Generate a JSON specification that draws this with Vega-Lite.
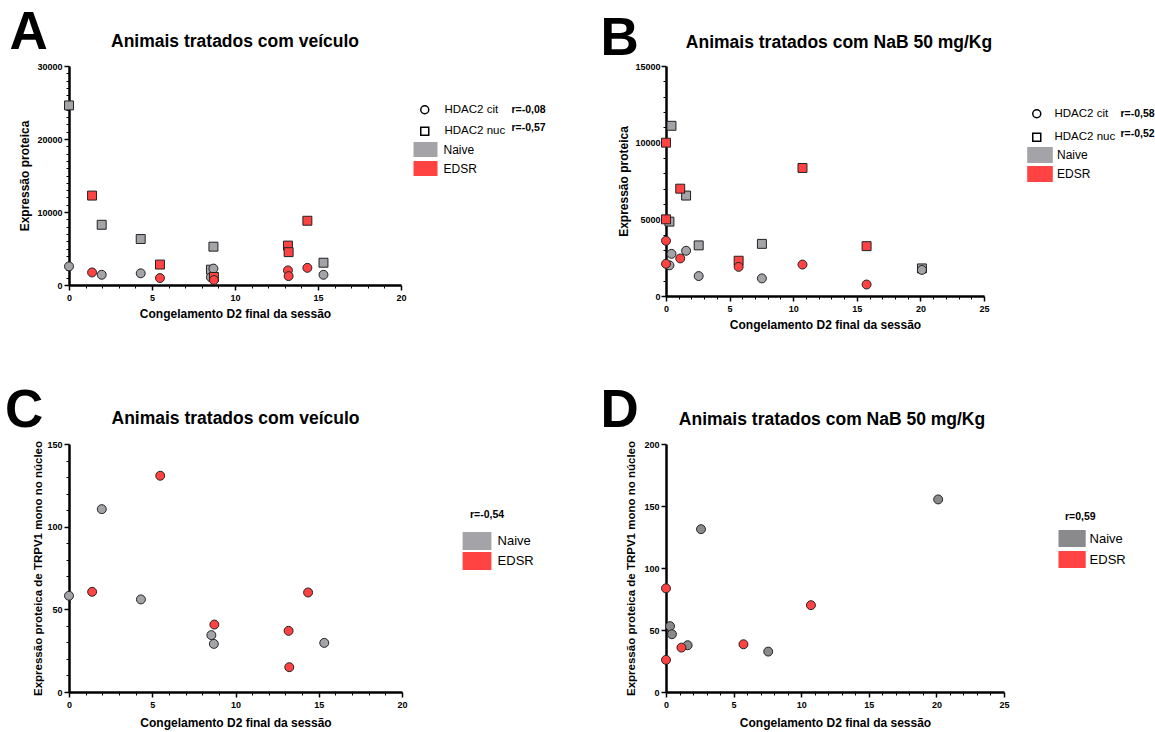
{
  "$schema": "https://vega.github.io/schema/vega-lite/v6.json",
  "autosize": {"type": "pad"},
  "padding": {"left": 5, "top": 6, "right": 5, "bottom": 5},
  "background": "white",
  "datasets": {
    "pts": [
      {"panel": "A", "group": "Naive", "protein": "HDAC2 nuc", "x": 0, "y": 24600},
      {"panel": "A", "group": "Naive", "protein": "HDAC2 nuc", "x": 1.97, "y": 8250},
      {"panel": "A", "group": "Naive", "protein": "HDAC2 nuc", "x": 4.32, "y": 6300},
      {"panel": "A", "group": "Naive", "protein": "HDAC2 nuc", "x": 8.55, "y": 2100},
      {"panel": "A", "group": "Naive", "protein": "HDAC2 nuc", "x": 8.7, "y": 5250},
      {"panel": "A", "group": "Naive", "protein": "HDAC2 nuc", "x": 15.33, "y": 3050},
      {"panel": "A", "group": "Naive", "protein": "HDAC2 cit", "x": 0, "y": 2550},
      {"panel": "A", "group": "Naive", "protein": "HDAC2 cit", "x": 1.97, "y": 1400},
      {"panel": "A", "group": "Naive", "protein": "HDAC2 cit", "x": 4.32, "y": 1600},
      {"panel": "A", "group": "Naive", "protein": "HDAC2 cit", "x": 8.55, "y": 1050},
      {"panel": "A", "group": "Naive", "protein": "HDAC2 cit", "x": 8.7, "y": 2250},
      {"panel": "A", "group": "Naive", "protein": "HDAC2 cit", "x": 15.33, "y": 1400},
      {"panel": "A", "group": "EDSR", "protein": "HDAC2 nuc", "x": 1.39, "y": 12250},
      {"panel": "A", "group": "EDSR", "protein": "HDAC2 nuc", "x": 5.48, "y": 2800},
      {"panel": "A", "group": "EDSR", "protein": "HDAC2 nuc", "x": 8.73, "y": 1100},
      {"panel": "A", "group": "EDSR", "protein": "HDAC2 nuc", "x": 13.19, "y": 5400},
      {"panel": "A", "group": "EDSR", "protein": "HDAC2 nuc", "x": 13.23, "y": 4500},
      {"panel": "A", "group": "EDSR", "protein": "HDAC2 nuc", "x": 14.36, "y": 8800},
      {"panel": "A", "group": "EDSR", "protein": "HDAC2 cit", "x": 1.39, "y": 1720},
      {"panel": "A", "group": "EDSR", "protein": "HDAC2 cit", "x": 5.48, "y": 950},
      {"panel": "A", "group": "EDSR", "protein": "HDAC2 cit", "x": 8.73, "y": 680},
      {"panel": "A", "group": "EDSR", "protein": "HDAC2 cit", "x": 13.19, "y": 2000},
      {"panel": "A", "group": "EDSR", "protein": "HDAC2 cit", "x": 13.23, "y": 1220},
      {"panel": "A", "group": "EDSR", "protein": "HDAC2 cit", "x": 14.36, "y": 2350},
      {"panel": "B", "group": "Naive", "protein": "HDAC2 nuc", "x": 0.27, "y": 4850},
      {"panel": "B", "group": "Naive", "protein": "HDAC2 nuc", "x": 0.43, "y": 11100},
      {"panel": "B", "group": "Naive", "protein": "HDAC2 nuc", "x": 1.58, "y": 6550},
      {"panel": "B", "group": "Naive", "protein": "HDAC2 nuc", "x": 2.57, "y": 3300},
      {"panel": "B", "group": "Naive", "protein": "HDAC2 nuc", "x": 7.54, "y": 3400},
      {"panel": "B", "group": "Naive", "protein": "HDAC2 nuc", "x": 20.12, "y": 1800},
      {"panel": "B", "group": "Naive", "protein": "HDAC2 cit", "x": 0.27, "y": 2000},
      {"panel": "B", "group": "Naive", "protein": "HDAC2 cit", "x": 0.43, "y": 2750},
      {"panel": "B", "group": "Naive", "protein": "HDAC2 cit", "x": 1.58, "y": 2950},
      {"panel": "B", "group": "Naive", "protein": "HDAC2 cit", "x": 2.57, "y": 1300},
      {"panel": "B", "group": "Naive", "protein": "HDAC2 cit", "x": 7.54, "y": 1150},
      {"panel": "B", "group": "Naive", "protein": "HDAC2 cit", "x": 20.12, "y": 1700},
      {"panel": "B", "group": "EDSR", "protein": "HDAC2 nuc", "x": 0, "y": 10000},
      {"panel": "B", "group": "EDSR", "protein": "HDAC2 nuc", "x": 0, "y": 5000},
      {"panel": "B", "group": "EDSR", "protein": "HDAC2 nuc", "x": 1.12, "y": 7000},
      {"panel": "B", "group": "EDSR", "protein": "HDAC2 nuc", "x": 5.71, "y": 2300},
      {"panel": "B", "group": "EDSR", "protein": "HDAC2 nuc", "x": 10.73, "y": 8350},
      {"panel": "B", "group": "EDSR", "protein": "HDAC2 nuc", "x": 15.77, "y": 3250},
      {"panel": "B", "group": "EDSR", "protein": "HDAC2 cit", "x": 0, "y": 3600},
      {"panel": "B", "group": "EDSR", "protein": "HDAC2 cit", "x": 0, "y": 2100},
      {"panel": "B", "group": "EDSR", "protein": "HDAC2 cit", "x": 1.12, "y": 2450},
      {"panel": "B", "group": "EDSR", "protein": "HDAC2 cit", "x": 5.71, "y": 1900},
      {"panel": "B", "group": "EDSR", "protein": "HDAC2 cit", "x": 10.73, "y": 2050},
      {"panel": "B", "group": "EDSR", "protein": "HDAC2 cit", "x": 15.77, "y": 750},
      {"panel": "C", "group": "Naive", "protein": "TRPV1", "x": 0, "y": 58.2},
      {"panel": "C", "group": "Naive", "protein": "TRPV1", "x": 1.97, "y": 110.6},
      {"panel": "C", "group": "Naive", "protein": "TRPV1", "x": 4.32, "y": 56},
      {"panel": "C", "group": "Naive", "protein": "TRPV1", "x": 8.55, "y": 34.4},
      {"panel": "C", "group": "Naive", "protein": "TRPV1", "x": 8.7, "y": 29.1},
      {"panel": "C", "group": "Naive", "protein": "TRPV1", "x": 15.33, "y": 29.7},
      {"panel": "C", "group": "EDSR", "protein": "TRPV1", "x": 1.39, "y": 60.6},
      {"panel": "C", "group": "EDSR", "protein": "TRPV1", "x": 5.48, "y": 130.8},
      {"panel": "C", "group": "EDSR", "protein": "TRPV1", "x": 8.73, "y": 40.8},
      {"panel": "C", "group": "EDSR", "protein": "TRPV1", "x": 13.19, "y": 37},
      {"panel": "C", "group": "EDSR", "protein": "TRPV1", "x": 13.23, "y": 15},
      {"panel": "C", "group": "EDSR", "protein": "TRPV1", "x": 14.36, "y": 60.2},
      {"panel": "D", "group": "Naive", "protein": "TRPV1", "x": 0.3, "y": 53.1},
      {"panel": "D", "group": "Naive", "protein": "TRPV1", "x": 0.44, "y": 46.6},
      {"panel": "D", "group": "Naive", "protein": "TRPV1", "x": 1.6, "y": 37.7},
      {"panel": "D", "group": "Naive", "protein": "TRPV1", "x": 2.59, "y": 131.3},
      {"panel": "D", "group": "Naive", "protein": "TRPV1", "x": 7.56, "y": 32.6},
      {"panel": "D", "group": "Naive", "protein": "TRPV1", "x": 20.13, "y": 155.3},
      {"panel": "D", "group": "EDSR", "protein": "TRPV1", "x": 0, "y": 83.6},
      {"panel": "D", "group": "EDSR", "protein": "TRPV1", "x": 0, "y": 25.9},
      {"panel": "D", "group": "EDSR", "protein": "TRPV1", "x": 1.14, "y": 35.8},
      {"panel": "D", "group": "EDSR", "protein": "TRPV1", "x": 5.73, "y": 38.5},
      {"panel": "D", "group": "EDSR", "protein": "TRPV1", "x": 10.72, "y": 70}
    ],
    "stats": [
      {"panel": "A", "r": "r=-0,08"},
      {"panel": "A", "r": "r=-0,57"},
      {"panel": "B", "r": "r=-0,58"},
      {"panel": "B", "r": "r=-0,52"},
      {"panel": "C", "r": "r=-0,54"},
      {"panel": "D", "r": "r=0,59"}
    ],
    "txt": [
      {"panel": "A", "letter": "A", "title": "Animais tratados com veículo"},
      {"panel": "B", "letter": "B", "title": "Animais tratados com NaB 50 mg/Kg"},
      {"panel": "C", "letter": "C", "title": "Animais tratados com veículo"},
      {"panel": "D", "letter": "D", "title": "Animais tratados com NaB 50 mg/Kg"}
    ]
  },
  "columns": 2,
  "spacing": {"row": 148, "column": 264},
  "bounds": "flush",
  "align": "each",
  "resolve": {
    "scale": {"x": "independent", "y": "independent", "color": "independent", "shape": "independent", "strokeDash": "independent"},
    "legend": {"color": "independent", "shape": "independent", "strokeDash": "independent"}
  },
  "concat": [
    {
      "width": 332,
      "height": 219,
      "layer": [
        {
          "data": {"name": "pts"},
          "transform": [{"filter": "datum.panel === 'A'"}],
          "mark": {"type": "point", "filled": true, "size": 80, "stroke": "#222", "strokeWidth": 1, "opacity": 1},
          "encoding": {
            "x": {"field": "x", "type": "quantitative", "scale": {"domain": [0, 20], "nice": false, "zero": false},
              "axis": {"title": "Congelamento D2 final da sessão", "tickCount": 20, "labelExpr": "datum.value % 5 === 0 ? datum.label : ''",
                "tickSize": {"condition": {"test": "datum.value % 5 !== 0", "value": 3}, "value": 5},
                "tickWidth": {"condition": {"test": "datum.value % 5 !== 0", "value": 1}, "value": 1.5},
                "labelPadding": 3, "titlePadding": 6}},
            "y": {"field": "y", "type": "quantitative", "scale": {"domain": [0, 30000], "nice": false},
              "axis": {"title": "Expressão proteica", "tickCount": 30, "format": "d", "labelExpr": "datum.value % 10000 === 0 ? datum.label : ''",
                "tickSize": {"condition": {"test": "datum.value % 10000 !== 0", "value": 3}, "value": 5},
                "tickWidth": {"condition": {"test": "datum.value % 10000 !== 0", "value": 1}, "value": 1.5},
                "labelPadding": 2, "titlePadding": 5}},
            "color": {"field": "group", "type": "nominal", "scale": {"domain": ["Naive", "EDSR"], "range": ["#a3a3a8", "#ff4343"]},
              "legend": {"title": null, "orient": "none", "legendX": 349, "legendY": 76, "symbolType": "M-1.6,-1H1.6V1H-1.6Z", "symbolSize": 225, "symbolStrokeColor": "white", "symbolStrokeWidth": 0, "symbolOpacity": 1, "labelFontSize": 12, "labelOffset": 10.5, "rowPadding": 4}},
            "shape": {"field": "protein", "type": "nominal", "scale": {"range": ["circle", "square"]},
              "legend": {"title": null, "orient": "none", "legendX": 350, "legendY": 38, "symbolSize": 64, "symbolFillColor": "white", "symbolStrokeColor": "black", "symbolStrokeWidth": 1.5, "symbolOpacity": 1, "labelFontSize": 11.5, "labelOffset": 14, "rowPadding": 6.5}}
          }
        },
        {
          "data": {"name": "stats"},
          "transform": [{"filter": "datum.panel === 'A'"}],
          "mark": {"type": "point", "opacity": 0},
          "encoding": {
            "strokeDash": {"field": "r", "type": "nominal", "sort": null,
              "legend": {"title": null, "orient": "none", "legendX": 432, "legendY": 38.5, "symbolSize": 64, "symbolOpacity": 0, "labelFontSize": 10.5, "labelFontWeight": "bold", "labelOffset": 0, "rowPadding": 7.5}}
          }
        },
        {
          "data": {"name": "txt"},
          "transform": [{"filter": "datum.panel === 'A'"}],
          "mark": {"type": "text", "font": "Liberation Sans", "fontSize": 53, "fontWeight": "bold", "align": "left", "baseline": "alphabetic", "color": "black"},
          "encoding": {
            "x": {"datum": -3.58, "scale": {"domain": [0, 20], "nice": false, "zero": false}},
            "y": {"datum": 32329, "scale": {"domain": [0, 30000], "nice": false}},
            "text": {"field": "letter"}
          }
        },
        {
          "data": {"name": "txt"},
          "transform": [{"filter": "datum.panel === 'A'"}],
          "mark": {"type": "text", "font": "Liberation Sans", "fontSize": 17.5, "fontWeight": "bold", "align": "center", "baseline": "alphabetic", "color": "black"},
          "encoding": {
            "x": {"datum": 10, "scale": {"domain": [0, 20], "nice": false, "zero": false}},
            "y": {"datum": 32644, "scale": {"domain": [0, 30000], "nice": false}},
            "text": {"field": "title"}
          }
        }
      ]
    },
    {
      "width": 318,
      "height": 230,
      "layer": [
        {
          "data": {"name": "pts"},
          "transform": [{"filter": "datum.panel === 'B'"}],
          "mark": {"type": "point", "filled": true, "size": 80, "stroke": "#222", "strokeWidth": 1, "opacity": 1},
          "encoding": {
            "x": {"field": "x", "type": "quantitative", "scale": {"domain": [0, 25], "nice": false, "zero": false},
              "axis": {"title": "Congelamento D2 final da sessão", "tickCount": 25, "labelExpr": "datum.value % 5 === 0 ? datum.label : ''",
                "tickSize": {"condition": {"test": "datum.value % 5 !== 0", "value": 3}, "value": 5},
                "tickWidth": {"condition": {"test": "datum.value % 5 !== 0", "value": 1}, "value": 1.5},
                "labelPadding": 3, "titlePadding": 6}},
            "y": {"field": "y", "type": "quantitative", "scale": {"domain": [0, 15000], "nice": false},
              "axis": {"title": "Expressão proteica", "tickCount": 15, "format": "d", "labelExpr": "datum.value % 5000 === 0 ? datum.label : ''",
                "tickSize": {"condition": {"test": "datum.value % 5000 !== 0", "value": 3}, "value": 5},
                "tickWidth": {"condition": {"test": "datum.value % 5000 !== 0", "value": 1}, "value": 1.5},
                "labelPadding": 1, "titlePadding": 4}},
            "color": {"field": "group", "type": "nominal", "scale": {"domain": ["Naive", "EDSR"], "range": ["#a3a3a8", "#ff4343"]},
              "legend": {"title": null, "orient": "none", "legendX": 366, "legendY": 81, "symbolType": "M-1.6,-1H1.6V1H-1.6Z", "symbolSize": 256, "symbolStrokeColor": "white", "symbolStrokeWidth": 0, "symbolOpacity": 1, "labelFontSize": 12, "labelOffset": 9, "rowPadding": 3}},
            "shape": {"field": "protein", "type": "nominal", "scale": {"range": ["circle", "square"]},
              "legend": {"title": null, "orient": "none", "legendX": 365, "legendY": 42, "symbolSize": 64, "symbolFillColor": "white", "symbolStrokeColor": "black", "symbolStrokeWidth": 1.5, "symbolOpacity": 1, "labelFontSize": 11.5, "labelOffset": 12, "rowPadding": 8.5}}
          }
        },
        {
          "data": {"name": "stats"},
          "transform": [{"filter": "datum.panel === 'B'"}],
          "mark": {"type": "point", "opacity": 0},
          "encoding": {
            "strokeDash": {"field": "r", "type": "nominal", "sort": null,
              "legend": {"title": null, "orient": "none", "legendX": 444, "legendY": 42.5, "symbolSize": 64, "symbolOpacity": 0, "labelFontSize": 10.5, "labelFontWeight": "bold", "labelOffset": 0, "rowPadding": 9.5}}
          }
        },
        {
          "data": {"name": "txt"},
          "transform": [{"filter": "datum.panel === 'B'"}],
          "mark": {"type": "text", "font": "Liberation Sans", "fontSize": 53, "fontWeight": "bold", "align": "left", "baseline": "alphabetic", "color": "black"},
          "encoding": {
            "x": {"datum": -5.15, "scale": {"domain": [0, 25], "nice": false, "zero": false}},
            "y": {"datum": 15717, "scale": {"domain": [0, 15000], "nice": false}},
            "text": {"field": "letter"}
          }
        },
        {
          "data": {"name": "txt"},
          "transform": [{"filter": "datum.panel === 'B'"}],
          "mark": {"type": "text", "font": "Liberation Sans", "fontSize": 17.5, "fontWeight": "bold", "align": "center", "baseline": "alphabetic", "color": "black"},
          "encoding": {
            "x": {"datum": 13.6, "scale": {"domain": [0, 25], "nice": false, "zero": false}},
            "y": {"datum": 16154, "scale": {"domain": [0, 15000], "nice": false}},
            "text": {"field": "title"}
          }
        }
      ]
    },
    {
      "width": 333,
      "height": 248,
      "layer": [
        {
          "data": {"name": "pts"},
          "transform": [{"filter": "datum.panel === 'C'"}],
          "mark": {"type": "point", "filled": true, "shape": "circle", "size": 80, "stroke": "#222", "strokeWidth": 1, "opacity": 1},
          "encoding": {
            "x": {"field": "x", "type": "quantitative", "scale": {"domain": [0, 20], "nice": false, "zero": false},
              "axis": {"title": "Congelamento D2 final da sessão", "tickCount": 20, "labelExpr": "datum.value % 5 === 0 ? datum.label : ''",
                "tickSize": {"condition": {"test": "datum.value % 5 !== 0", "value": 3}, "value": 5},
                "tickWidth": {"condition": {"test": "datum.value % 5 !== 0", "value": 1}, "value": 1.5},
                "labelPadding": 3, "titlePadding": 8}},
            "y": {"field": "y", "type": "quantitative", "scale": {"domain": [0, 150], "nice": false},
              "axis": {"title": "Expressão proteica de TRPV1 mono no núcleo", "titleFontSize": 11.5, "tickCount": 15, "format": "d", "labelExpr": "datum.value % 50 === 0 ? datum.label : ''",
                "tickSize": {"condition": {"test": "datum.value % 50 !== 0", "value": 3}, "value": 5},
                "tickWidth": {"condition": {"test": "datum.value % 50 !== 0", "value": 1}, "value": 1.5},
                "labelPadding": 2, "titlePadding": 3}},
            "color": {"field": "group", "type": "nominal", "scale": {"domain": ["Naive", "EDSR"], "range": ["#a3a3a8", "#ff4343"]},
              "legend": {"title": null, "orient": "none", "legendX": 399, "legendY": 88, "symbolType": "M-1.6,-1H1.6V1H-1.6Z", "symbolSize": 324, "symbolStrokeColor": "white", "symbolStrokeWidth": 0, "symbolOpacity": 1, "labelFontSize": 13, "labelOffset": 11.6, "rowPadding": 2}}
          }
        },
        {
          "data": {"name": "stats"},
          "transform": [{"filter": "datum.panel === 'C'"}],
          "mark": {"type": "point", "opacity": 0},
          "encoding": {
            "strokeDash": {"field": "r", "type": "nominal", "sort": null,
              "legend": {"title": null, "orient": "none", "legendX": 390.5, "legendY": 65.5, "symbolSize": 64, "symbolOpacity": 0, "labelFontSize": 10.5, "labelFontWeight": "bold", "labelOffset": 0}}
          }
        },
        {
          "data": {"name": "txt"},
          "transform": [{"filter": "datum.panel === 'C'"}],
          "mark": {"type": "text", "font": "Liberation Sans", "fontSize": 53, "fontWeight": "bold", "align": "left", "baseline": "alphabetic", "color": "black"},
          "encoding": {
            "x": {"datum": -3.84, "scale": {"domain": [0, 20], "nice": false, "zero": false}},
            "y": {"datum": 160.3, "scale": {"domain": [0, 150], "nice": false}},
            "text": {"field": "letter"}
          }
        },
        {
          "data": {"name": "txt"},
          "transform": [{"filter": "datum.panel === 'C'"}],
          "mark": {"type": "text", "font": "Liberation Sans", "fontSize": 17.5, "fontWeight": "bold", "align": "center", "baseline": "alphabetic", "color": "black"},
          "encoding": {
            "x": {"datum": 10, "scale": {"domain": [0, 20], "nice": false, "zero": false}},
            "y": {"datum": 162.1, "scale": {"domain": [0, 150], "nice": false}},
            "text": {"field": "title"}
          }
        }
      ]
    },
    {
      "width": 338,
      "height": 248,
      "layer": [
        {
          "data": {"name": "pts"},
          "transform": [{"filter": "datum.panel === 'D'"}],
          "mark": {"type": "point", "filled": true, "shape": "circle", "size": 80, "stroke": "#222", "strokeWidth": 1, "opacity": 1},
          "encoding": {
            "x": {"field": "x", "type": "quantitative", "scale": {"domain": [0, 25], "nice": false, "zero": false},
              "axis": {"title": "Congelamento D2 final da sessão", "tickCount": 25, "labelExpr": "datum.value % 5 === 0 ? datum.label : ''",
                "tickSize": {"condition": {"test": "datum.value % 5 !== 0", "value": 3}, "value": 5},
                "tickWidth": {"condition": {"test": "datum.value % 5 !== 0", "value": 1}, "value": 1.5},
                "labelPadding": 3, "titlePadding": 8}},
            "y": {"field": "y", "type": "quantitative", "scale": {"domain": [0, 200], "nice": false},
              "axis": {"title": "Expressão proteica de TRPV1 mono no núcleo", "titleFontSize": 11.5, "tickCount": 4, "format": "d", "tickSize": 5, "tickWidth": 1.5,
                "labelPadding": 2, "titlePadding": 7}},
            "color": {"field": "group", "type": "nominal", "scale": {"domain": ["Naive", "EDSR"], "range": ["#8a8a8c", "#ff4343"]},
              "legend": {"title": null, "orient": "none", "legendX": 397.6, "legendY": 86, "symbolType": "M-1.6,-1H1.6V1H-1.6Z", "symbolSize": 289, "symbolStrokeColor": "white", "symbolStrokeWidth": 0, "symbolOpacity": 1, "labelFontSize": 13, "labelOffset": 9, "rowPadding": 4}}
          }
        },
        {
          "data": {"name": "stats"},
          "transform": [{"filter": "datum.panel === 'D'"}],
          "mark": {"type": "point", "opacity": 0},
          "encoding": {
            "strokeDash": {"field": "r", "type": "nominal", "sort": null,
              "legend": {"title": null, "orient": "none", "legendX": 388.5, "legendY": 67.5, "symbolSize": 64, "symbolOpacity": 0, "labelFontSize": 10.5, "labelFontWeight": "bold", "labelOffset": 0}}
          }
        },
        {
          "data": {"name": "txt"},
          "transform": [{"filter": "datum.panel === 'D'"}],
          "mark": {"type": "text", "font": "Liberation Sans", "fontSize": 53, "fontWeight": "bold", "align": "left", "baseline": "alphabetic", "color": "black"},
          "encoding": {
            "x": {"datum": -4.84, "scale": {"domain": [0, 25], "nice": false, "zero": false}},
            "y": {"datum": 213.7, "scale": {"domain": [0, 200], "nice": false}},
            "text": {"field": "letter"}
          }
        },
        {
          "data": {"name": "txt"},
          "transform": [{"filter": "datum.panel === 'D'"}],
          "mark": {"type": "text", "font": "Liberation Sans", "fontSize": 17.5, "fontWeight": "bold", "align": "center", "baseline": "alphabetic", "color": "black"},
          "encoding": {
            "x": {"datum": 12.28, "scale": {"domain": [0, 25], "nice": false, "zero": false}},
            "y": {"datum": 215.3, "scale": {"domain": [0, 200], "nice": false}},
            "text": {"field": "title"}
          }
        }
      ]
    }
  ],
  "config": {
    "view": {"stroke": null},
    "font": "Liberation Sans",
    "axis": {"domainColor": "#000", "domainWidth": 2.5, "tickColor": "#000", "labelColor": "#000", "labelFont": "Liberation Sans", "labelFontWeight": "bold", "labelFontSize": 9, "titleFont": "Liberation Sans", "titleFontWeight": "bold", "titleFontSize": 12, "titleColor": "#000", "grid": false, "labelOverlap": false, "labelFlush": false},
    "legend": {"padding": 0, "labelFont": "Liberation Sans", "labelColor": "#000", "labelLimit": 300}
  }
}
